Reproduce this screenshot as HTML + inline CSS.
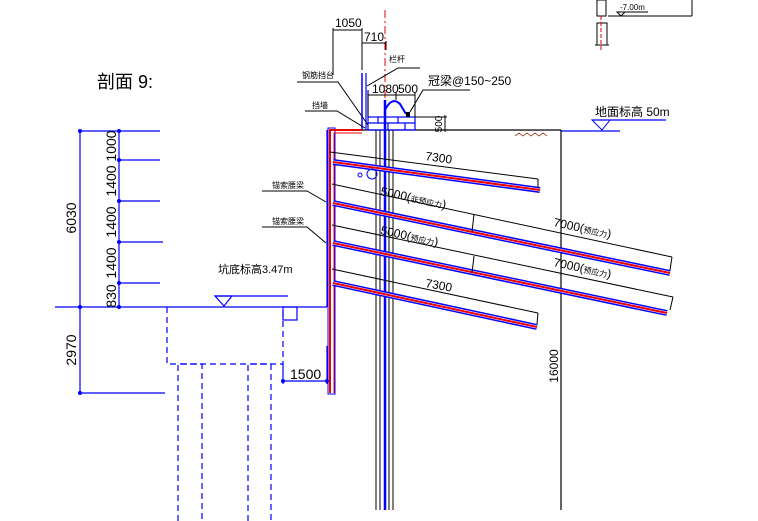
<!DOCTYPE html>
<html><head><meta charset="utf-8"><style>
html,body{margin:0;padding:0;background:#fff;}
svg{display:block;}
text{font-family:"Liberation Sans","Noto Sans CJK SC",sans-serif;}
</style></head><body>
<svg width="758" height="521" viewBox="0 0 758 521" xmlns="http://www.w3.org/2000/svg">
<rect width="758" height="521" fill="#fff"/>
<text x="97" y="88" font-size="18" font-family="Liberation Serif,Noto Serif CJK SC,serif" fill="#000">剖面 9:</text>

<!-- left dims -->
<g stroke="#0000ff" stroke-width="1.2" fill="none">
<line x1="80" y1="131" x2="80" y2="393"/>
<line x1="119" y1="131" x2="119" y2="307"/>
<line x1="78" y1="131" x2="160" y2="131"/>
<line x1="119" y1="160" x2="160" y2="160"/>
<line x1="119" y1="201" x2="160" y2="201"/>
<line x1="119" y1="242" x2="163" y2="242"/>
<line x1="119" y1="283" x2="160" y2="283"/>
<line x1="55" y1="307" x2="327" y2="307"/>
<line x1="78" y1="393" x2="165" y2="393"/>
<line x1="215" y1="296" x2="288" y2="296"/>
<path d="M215 296 L232 296 L224 306 Z"/>
<g stroke-dasharray="6,4">
<path d="M167 307 V364 H283 V307"/>
<path d="M178 521 V364 H202 V521"/>
<path d="M248 521 V364 H271 V521"/>
</g>
<rect x="283" y="307" width="14" height="13"/>
<line x1="283" y1="381" x2="327" y2="381"/>
<line x1="283" y1="364" x2="283" y2="384"/>
<line x1="327" y1="346" x2="327" y2="384"/>
</g>
<g fill="#0000ff">
<circle cx="80" cy="131" r="2"/><circle cx="119" cy="131" r="2"/><circle cx="119" cy="160" r="2"/><circle cx="119" cy="201" r="2"/><circle cx="119" cy="242" r="2"/><circle cx="119" cy="283" r="2"/><circle cx="80" cy="307" r="2"/><circle cx="119" cy="307" r="2"/><circle cx="80" cy="393" r="2"/><circle cx="283" cy="381" r="2"/><circle cx="327" cy="381" r="2"/>
</g>
<g font-size="14" fill="#000">
<text transform="translate(76,218) rotate(-90)" text-anchor="middle">6030</text>
<text transform="translate(76,350) rotate(-90)" text-anchor="middle">2970</text>
<text transform="translate(116,146) rotate(-90)" text-anchor="middle">1000</text>
<text transform="translate(116,181) rotate(-90)" text-anchor="middle">1400</text>
<text transform="translate(116,222) rotate(-90)" text-anchor="middle">1400</text>
<text transform="translate(116,263) rotate(-90)" text-anchor="middle">1400</text>
<text transform="translate(116,296) rotate(-90)" text-anchor="middle">830</text>
<text x="290" y="379">1500</text>
</g>
<text x="218" y="273" font-size="11" fill="#000">坑底标高3.47m</text>

<!-- ground line -->
<line x1="334" y1="130" x2="561" y2="130" stroke="#000" stroke-width="1.2"/>
<line x1="561" y1="131" x2="620" y2="131" stroke="#0000ff" stroke-width="1.2"/>
<line x1="561" y1="130" x2="561" y2="510" stroke="#000" stroke-width="1.2"/>
<text transform="translate(558,366) rotate(-90)" text-anchor="middle" font-size="12">16000</text>
<path d="M515 136 l4 -3 l4 3 l4 -3 l4 3 l4 -3 l4 3 l4 -3 l4 3" stroke="#a04020" fill="none" stroke-width="0.8"/>
<line x1="592" y1="120" x2="666" y2="120" stroke="#0000ff" stroke-width="1.2"/>
<path d="M592 120 L610 120 L602 130 Z" stroke="#0000ff" fill="none"/>
<text x="595" y="116" font-size="12">地面标高 50m</text>

<!-- top right -->
<g stroke="#000" fill="none" stroke-width="1">
<rect x="597" y="0" width="9" height="16"/>
<line x1="608" y1="16" x2="692" y2="16"/>
<line x1="692" y1="0" x2="692" y2="16"/>
<line x1="618" y1="12" x2="648" y2="12"/>
<path d="M617 12 L625 12 L621 16 Z"/>
<rect x="597" y="23" width="10" height="22"/>
<line x1="595" y1="45" x2="609" y2="45"/>
</g>
<line x1="601" y1="16" x2="601" y2="52" stroke="#d00" stroke-dasharray="4,2"/>
<text x="620" y="10" font-size="8">-7.00m</text>

<!-- pile -->
<g stroke="#000" stroke-width="1">
<line x1="376" y1="130" x2="376" y2="510"/><line x1="380" y1="130" x2="380" y2="510"/>
<line x1="389" y1="130" x2="389" y2="510"/><line x1="393" y1="130" x2="393" y2="510"/>
</g>
<line x1="385" y1="100" x2="385" y2="510" stroke="#0000ff" stroke-width="2.5"/>
<line x1="385" y1="10" x2="385" y2="100" stroke="#e00" stroke-dasharray="8,3,2,3"/>

<!-- cap -->
<g stroke="#0000ff" fill="none" stroke-width="1.2">
<rect x="368" y="117" width="47" height="13"/>
<line x1="368" y1="123" x2="415" y2="123"/>
<line x1="378" y1="117" x2="378" y2="123"/><line x1="398" y1="117" x2="398" y2="123"/><line x1="388" y1="123" x2="388" y2="130"/><line x1="405" y1="123" x2="405" y2="130"/>
<path d="M385 117 V110 Q392 96 400 104 L406 114" stroke-width="2"/>
<line x1="362" y1="73" x2="362" y2="130" stroke-width="1.5"/>
<line x1="366" y1="73" x2="366" y2="130"/>
<line x1="368" y1="90" x2="368" y2="117"/>
</g>
<rect x="406" y="112" width="4" height="5" fill="#000"/>
<!-- top dims -->
<g stroke="#000" stroke-width="1" fill="none">
<line x1="333" y1="30" x2="362" y2="30"/><line x1="333" y1="28" x2="333" y2="75"/><line x1="362" y1="28" x2="362" y2="70"/>
<line x1="362" y1="43" x2="386" y2="43"/><line x1="386" y1="41" x2="386" y2="50"/>
<line x1="368" y1="95" x2="415" y2="95"/><line x1="368" y1="93" x2="368" y2="117"/><line x1="396" y1="93" x2="396" y2="100"/><line x1="415" y1="93" x2="415" y2="117"/>
<line x1="415" y1="117" x2="447" y2="117"/><line x1="445" y1="115" x2="445" y2="132"/>
<path d="M297 82 H338 L368 125"/>
<path d="M305 111 H337 L365 128"/>
<path d="M420 68 H398 L367 86"/>
<path d="M470 90 H423 L410 112"/>
<path d="M262 191 H307 L326 202"/>
<path d="M262 227 H307 L326 243"/>
</g>
<g font-size="12">
<text x="335" y="27">1050</text>
<text x="364" y="41">710</text>
<text x="372" y="93">1080</text><text x="398" y="93">500</text>
<text transform="translate(442,124) rotate(-90)" text-anchor="middle" font-size="10">500</text>
<text x="428" y="85">冠梁@150~250</text>
</g>
<g font-size="8">
<text x="302" y="78">钢筋挡台</text>
<text x="312" y="108">挡墙</text>
<text x="389" y="62">栏杆</text>
<text x="272" y="188">锚索腰梁</text>
<text x="272" y="224">锚索腰梁</text>
</g>

<!-- wall -->
<path d="M327 130 V307" stroke="#0000ff" stroke-width="1.2"/>
<rect x="328" y="128" width="7" height="266" fill="none" stroke="#0000ff" stroke-width="1"/>
<path d="M330 393 V130 H362" stroke="#e00" stroke-width="2" fill="none"/>
<path d="M334 393 V133 H362" stroke="#e00" stroke-width="1" fill="none"/>

<!-- anchors -->
<g fill="none">
<g>
<line x1="333" y1="162" x2="540" y2="190" stroke="#0000ff" stroke-width="6"/>
<line x1="333" y1="162" x2="540" y2="190" stroke="#fff" stroke-width="3"/>
<line x1="333" y1="162" x2="540" y2="190" stroke="#e00" stroke-width="2"/>
</g>
<g>
<line x1="333" y1="203" x2="670" y2="273" stroke="#0000ff" stroke-width="6"/>
<line x1="333" y1="203" x2="670" y2="273" stroke="#fff" stroke-width="3"/>
<line x1="333" y1="203" x2="670" y2="273" stroke="#e00" stroke-width="2"/>
</g>
<g>
<line x1="333" y1="243" x2="667" y2="313" stroke="#0000ff" stroke-width="6"/>
<line x1="333" y1="243" x2="667" y2="313" stroke="#fff" stroke-width="3"/>
<line x1="333" y1="243" x2="667" y2="313" stroke="#e00" stroke-width="2"/>
</g>
<g>
<line x1="333" y1="283" x2="537" y2="327" stroke="#0000ff" stroke-width="6"/>
<line x1="333" y1="283" x2="537" y2="327" stroke="#fff" stroke-width="3"/>
<line x1="333" y1="283" x2="537" y2="327" stroke="#e00" stroke-width="2"/>
</g>
<g stroke="#000" stroke-width="1">
<line x1="330" y1="152" x2="538" y2="179"/><line x1="538" y1="179" x2="538" y2="188"/>
<line x1="332" y1="184" x2="672" y2="257"/><line x1="672" y1="257" x2="670" y2="270"/><line x1="474" y1="214" x2="472" y2="232"/>
<line x1="332" y1="225" x2="673" y2="297"/><line x1="673" y1="297" x2="670" y2="310"/><line x1="474" y1="256" x2="472" y2="273"/>
<line x1="332" y1="269" x2="538" y2="313"/><line x1="538" y1="313" x2="537" y2="324"/>
</g>
</g>
<circle cx="372" cy="174" r="5" fill="none" stroke="#0000ff"/>
<circle cx="360" cy="175" r="2" fill="none" stroke="#0000ff"/>
<g font-size="12">
<text transform="translate(425,160) rotate(8)">7300</text>
<text transform="translate(380,195) rotate(12)">5000(<tspan font-size="8">非预应力</tspan>)</text>
<text transform="translate(553,226) rotate(12)">7000(<tspan font-size="8">预应力</tspan>)</text>
<text transform="translate(380,234) rotate(12)">5000(<tspan font-size="8">预应力</tspan>)</text>
<text transform="translate(553,266) rotate(12)">7000(<tspan font-size="8">预应力</tspan>)</text>
<text transform="translate(425,287) rotate(10)">7300</text>
</g>
</svg>
</body></html>
